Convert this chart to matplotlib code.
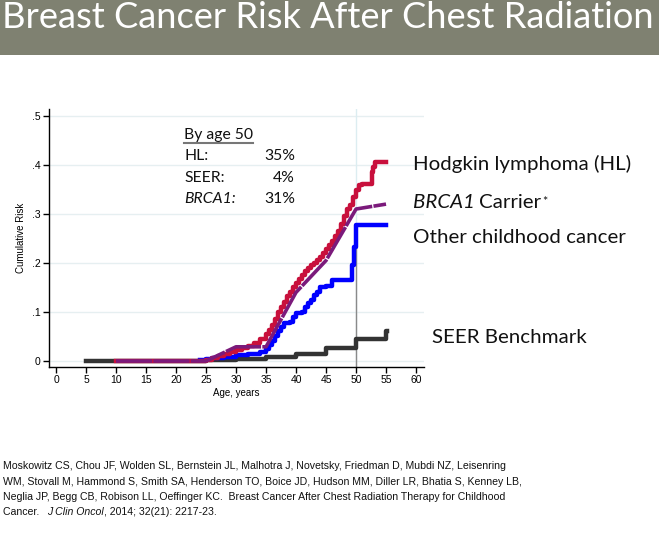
import matplotlib
matplotlib.use("Agg")
from matplotlib import pyplot as plt

# data
hl_age = [10, 25, 26, 27, 28, 29, 30, 31, 32, 33, 34, 35, 35.5, 36, 36.5, 37, 37.5, 38,
          38.5, 39, 39.5, 40, 40.5, 41, 41.5, 42, 42.5, 43, 43.5, 44, 44.5, 45, 45.5, 46,
          46.5, 47, 47.5, 48, 48.5, 49, 49.5, 50, 50.5, 51, 52.7, 52.9, 53.1, 55]
hl_risk = [0, 0.003, 0.006, 0.01, 0.014, 0.018, 0.022, 0.026, 0.031, 0.037, 0.045, 0.055,
           0.063, 0.073, 0.086, 0.1, 0.11, 0.12, 0.132, 0.14, 0.15, 0.16, 0.168, 0.175,
           0.183, 0.19, 0.196, 0.2, 0.207, 0.212, 0.22, 0.228, 0.236, 0.245, 0.255, 0.265,
           0.28, 0.295, 0.31, 0.318, 0.335, 0.349, 0.36, 0.362, 0.385, 0.395, 0.405, 0.405]

other_age = [24, 25, 26, 28, 30, 32, 34, 35, 35.5, 36, 36.5, 37, 37.5, 38, 39, 39.5, 40, 41,
             41.5, 42, 42.5, 43, 43.5, 44, 45, 46, 49, 49.3, 49.7, 50, 55]
other_risk = [0.002, 0.004, 0.006, 0.008, 0.012, 0.015, 0.018, 0.024, 0.032, 0.04, 0.052,
              0.062, 0.07, 0.077, 0.08, 0.09, 0.098, 0.1, 0.11, 0.118, 0.125, 0.135, 0.14,
              0.15, 0.153, 0.165, 0.165, 0.196, 0.233, 0.278, 0.278]

seer_age = [5, 25, 30, 35, 40, 45, 50, 55, 55.2]
seer_risk = [0, 0.002, 0.004, 0.008, 0.014, 0.026, 0.045, 0.062, 0.062]

brca_age = [10, 25, 30, 35, 40, 45, 50, 55]
brca_risk = [0, 0, 0.029, 0.029, 0.14, 0.205, 0.31, 0.32]

x_ticks = list(range(0, 61, 5))
y_ticks = [0, 0.1, 0.2, 0.3, 0.4, 0.5]
y_tick_labels = ["0", ".1", ".2", ".3", ".4", ".5"]

summary_rows = [("HL:", "35%", "normal"), ("SEER:", "4%", "normal"), ("BRCA1:", "31%", "italic")]

W, H = 659, 541
fig = plt.figure(figsize=(W / 100, H / 100), dpi=100)
fig.patch.set_facecolor("white")


def px(x, y):
    return x / W, 1 - y / H


renderer = fig.canvas.get_renderer()


def put(x, y, s, width=None, **kw):
    # place text at pixel position (baseline), optionally fit to a pixel width
    t = fig.text(*px(x, y), s, va="baseline", **kw)
    if width is not None:
        w = t.get_window_extent(renderer).width
        t.set_fontsize(t.get_fontsize() * width / w)
    return t


def right_edge(t):
    return t.get_window_extent(renderer).x1


# title bar
bar = fig.add_axes([0, 1 - 55 / H, 1, 55 / H])
bar.set_facecolor("#7f8171")
bar.set_xticks([])
bar.set_yticks([])
for s in bar.spines.values():
    s.set_visible(False)
put(2, 28, "Breast Cancer Risk After Chest Radiation", width=650,
    color="white", family="Lato", fontsize=22)

# main plot
left, right, top, bottom = 49, 424, 109, 367
ax = fig.add_axes([left / W, 1 - bottom / H, (right - left) / W, (bottom - top) / H])
ax.set_xlim(-1.17, 61.33)
ax.set_ylim(-0.0122, 0.514)
ax.set_yticks(y_ticks)
ax.set_yticklabels(y_tick_labels)
ax.set_xticks(x_ticks)
ax.grid(axis="y", color="#e6eff1", lw=1)
ax.set_axisbelow(True)
for s in ["top", "right"]:
    ax.spines[s].set_visible(False)
for s in ["left", "bottom"]:
    ax.spines[s].set_linewidth(1)
ax.tick_params(labelsize=7.5, length=4, width=1, pad=2)
for lab in ax.get_xticklabels() + ax.get_yticklabels():
    lab.set_family("Liberation Sans")
ax.set_xlabel("Age, years", fontsize=7, family="Liberation Sans", labelpad=2)
ax.set_ylabel("Cumulative Risk", fontsize=7, family="Liberation Sans", labelpad=4)

ax.axvline(50, color="#dcedf1", lw=1, zorder=1)
ax.plot([50, 50], [-0.0122, 0.278], color="#8a8a8a", lw=1, zorder=2)

ax.step(seer_age, seer_risk, where="post", color="#333333", lw=3.2, zorder=3)
ax.step(other_age, other_risk, where="post", color="#0000ff", lw=3.2, zorder=4)
ax.step(hl_age, hl_risk, where="post", color="#c8103c", lw=3.2, zorder=5)
ax.plot(brca_age, brca_risk, color="#7b1a7b", lw=2.6, zorder=6,
        linestyle=(0, (10, 0.35)), solid_capstyle="butt")

# summary box
box = dict(family="Lato", fontsize=11.3, color="#111111")
t = put(184, 139, "By age 50", **box)
bb = t.get_window_extent(renderer)
fig.add_artist(plt.Line2D([bb.x0 / W, bb.x1 / W], [1 - 143 / H] * 2,
                          color="#777777", lw=1.5))
for i, (name, pct, style) in enumerate(summary_rows):
    y = [160, 182, 203][i]
    put(184, y, name, style=style, **box)
    put(295, y, pct, ha="right", **box)

# series labels
t = put(413, 170, "Hodgkin lymphoma (HL)", width=216, family="Lato", fontsize=13,
        color="#111111")
lbl = dict(family="Lato", fontsize=t.get_fontsize(), color="#111111")
t = put(413, 208, "BRCA1", style="italic", **lbl)
t = put(right_edge(t) + 4, 208, "Carrier", **lbl)
put(right_edge(t) + 1, 206, "*", family="Lato", fontsize=9, color="#111111")
put(413, 243, "Other childhood cancer", **lbl)
put(432, 343, "SEER Benchmark", **lbl)

# citation
cite = dict(family=["Liberation Sans Narrow", "Liberation Sans"], fontsize=7.6, color="#111111")
put(3, 469, "Moskowitz CS, Chou JF, Wolden SL, Bernstein JL, Malhotra J, Novetsky, Friedman D, "
    "Mubdi NZ, Leisenring", **cite)
put(3, 485, "WM, Stovall M, Hammond S, Smith SA, Henderson TO, Boice JD, Hudson MM, Diller LR, "
    "Bhatia S, Kenney LB,", **cite)
put(3, 500, "Neglia JP, Begg CB, Robison LL, Oeffinger KC.  Breast Cancer After Chest Radiation "
    "Therapy for Childhood", **cite)
t = put(3, 515, "Cancer.  ", **cite)
t = put(right_edge(t) + 2, 515, "J Clin Oncol", style="italic", **cite)
put(right_edge(t), 515, ", 2014; 32(21): 2217-23.", **cite)

fig.savefig("out.png", dpi=100)
